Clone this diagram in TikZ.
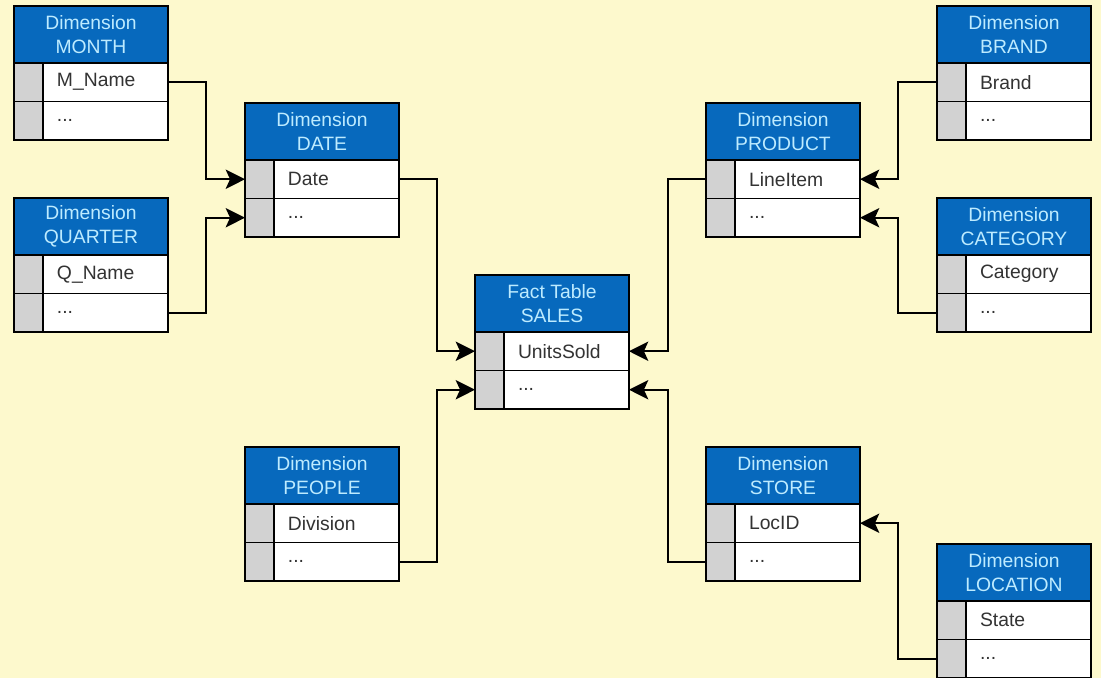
\documentclass[tikz,border=0pt]{standalone}
\usepackage{fontspec}
\setmainfont{Liberation Sans}
\usetikzlibrary{positioning,arrows.meta}

\definecolor{paper}{HTML}{FDF9CD}
\definecolor{headblue}{HTML}{0769BD}
\definecolor{headtext}{HTML}{BDEBFF}
\definecolor{keygray}{HTML}{D2D2D2}
\definecolor{celltext}{HTML}{333333}

\tikzset{
  tblhead/.style={rectangle, draw=black, fill=headblue, text=headtext, line width=0.9pt,
    minimum width=3.08cm, minimum height=1.14cm, align=center, inner sep=0pt, outer sep=0pt,
    font=\fontsize{11}{14}\selectfont},
  keycell/.style={rectangle, draw=black, fill=keygray, line width=0.9pt,
    minimum width=0.58cm, minimum height=0.77cm, inner sep=0pt, outer sep=0pt},
  fieldcell/.style={rectangle, draw=black, fill=white, text=celltext, line width=0.9pt,
    minimum height=0.77cm, text width=1.94cm, inner xsep=0.28cm, inner ysep=0pt,
    outer sep=0pt, align=left, font=\fontsize{11}{13}\selectfont},
  link/.style={line width=1.1pt, -{Stealth[length=11pt,width=11pt,inset=2.5pt]}}
}

\begin{document}
\begin{tikzpicture}[x=0.02cm, y=-0.02cm]

		\useasboundingbox (0,0) rectangle (1101,678);
		\fill[paper] (0,0) rectangle (1101,678);

		% Tables
		\foreach \tbl/\px/\py/\ttl/\fld in {
			month/14/6/{Dimension\\MONTH}/M\_Name,
			quarter/14/198/{Dimension\\QUARTER}/Q\_Name,
			date/245/103/{Dimension\\DATE}/Date,
			people/245/447/{Dimension\\PEOPLE}/Division,
			sales/475/275/{Fact Table\\SALES}/UnitsSold,
			product/706/103/{Dimension\\PRODUCT}/LineItem,
			store/706/447/{Dimension\\STORE}/LocID,
			brand/937/6/{Dimension\\BRAND}/Brand,
			category/937/198/{Dimension\\CATEGORY}/Category,
			location/937/544/{Dimension\\LOCATION}/State}{
			\node[tblhead, anchor=north west] (\tbl-h) at (\px,\py) {\ttl};
			\node[keycell, anchor=north west] (\tbl-k1) at (\tbl-h.south west) {};
			\node[fieldcell, right=0pt of \tbl-k1] (\tbl-f1) {\fld};
			\node[keycell, below=0pt of \tbl-k1] (\tbl-k2) {};
			\node[fieldcell, right=0pt of \tbl-k2] (\tbl-f2) {...};
		}

		% Links
		\draw[link] (month-f1.east) -- ++(38,0) |- (date-k1.west);
		\draw[link] (quarter-f2.east) -- ++(38,0) |- (date-k2.west);
		\draw[link] (date-f1.east) -- ++(38,0) |- (sales-k1.west);
		\draw[link] (people-f2.east) -- ++(38,0) |- (sales-k2.west);

		\draw[link] (product-k1.west) -- ++(-38,0) |- (sales-f1.east);
		\draw[link] (store-k2.west) -- ++(-38,0) |- (sales-f2.east);
		\draw[link] (brand-k1.west) -- ++(-39,0) |- (product-f1.east);
		\draw[link] (category-k2.west) -- ++(-39,0) |- (product-f2.east);
		\draw[link] (location-k2.west) -- ++(-39,0) |- (store-f1.east);

\end{tikzpicture}
\end{document}
